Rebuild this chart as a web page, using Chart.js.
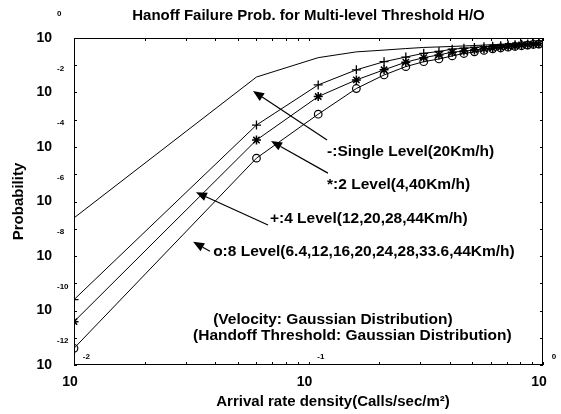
<!DOCTYPE html>
<html>
<head>
<meta charset="utf-8">
<script src="https://cdn.jsdelivr.net/npm/chart.js@4.4.0/dist/chart.umd.min.js"></script>
<style>
  html, body { margin: 0; padding: 0; background: #fff; }
  #wrap { width: 561px; height: 414px; }
</style>
</head>
<body>
<div id="wrap"><canvas id="chart" width="561" height="414"></canvas></div>
<script>
// Arrival rate density (Calls/sec/m^2)
const arrivalRates = [0.01, 0.06, 0.11, 0.16, 0.21, 0.26, 0.31, 0.36, 0.41, 0.46,
                      0.51, 0.56, 0.61, 0.66, 0.71, 0.76, 0.81, 0.86, 0.91, 0.96];

// Handoff failure probability per scheme
const singleLevel = [2.5e-7, 0.037, 0.19, 0.31, 0.36, 0.41, 0.45, 0.47, 0.49, 0.51,
                     0.53, 0.55, 0.57, 0.58, 0.60, 0.61, 0.63, 0.64, 0.66, 0.67];
const level4 = [2.5e-10, 6.4e-4, 0.019, 0.068, 0.135, 0.20, 0.275, 0.32, 0.39, 0.42,
                0.45, 0.48, 0.50, 0.52, 0.55, 0.57, 0.59, 0.60, 0.62, 0.63];
const level2 = [3.9e-11, 1.8e-4, 7.1e-3, 0.029, 0.068, 0.13, 0.19, 0.24, 0.30, 0.33,
                0.36, 0.40, 0.43, 0.46, 0.49, 0.51, 0.55, 0.57, 0.59, 0.62];
const level8 = [4.1e-12, 3.9e-5, 1.6e-3, 0.014, 0.044, 0.089, 0.135, 0.17, 0.22, 0.27,
                0.31, 0.35, 0.40, 0.43, 0.46, 0.49, 0.52, 0.55, 0.58, 0.60];

// Tick decades (labels are 10 with these exponents)
const xDecades = [-2, -1, 0];
const yDecades = [-12, -11, -10, -9, -8, -7, -6, -5, -4, -3, -2, -1, 0];

// Annotation texts and arrows, placed in data coordinates
const notes = [
  { text: '-:Single Level(20Km/h)', x: 0.12, y: 6.5e-5 },
  { text: '*:2 Level(4,40Km/h)', x: 0.12, y: 4.0e-6 },
  { text: '+:4 Level(12,20,28,44Km/h)', x: 0.0685, y: 2.3e-7 },
  { text: 'o:8 Level(6.4,12,16,20,24,28,33.6,44Km/h)', x: 0.0392, y: 1.4e-8 },
  { text: '(Velocity: Gaussian Distribution)', x: 0.0392, y: 4.5e-11 },
  { text: '(Handoff Threshold: Gaussian Distribution)', x: 0.0322, y: 1.16e-11 }
];
const arrows = [
  { from: [0.12, 1.8e-4], to: [0.058, 0.0113] },
  { from: [0.121, 1.1e-5], to: [0.0692, 1.66e-4] },
  { from: [0.0672, 1.37e-7], to: [0.0331, 2.2e-6] },
  { from: [0.038, 1.5e-8], to: [0.0322, 3.3e-8] }
];

const FONT = "'Liberation Sans', Arial, sans-serif";

function toPoints(ys) {
  return arrivalRates.map((x, i) => ({ x: x, y: ys[i] }));
}

function drawArrow(ctx, x1, y1, x2, y2) {
  const ang = Math.atan2(y2 - y1, x2 - x1);
  const len = 11, half = 4.5;
  const bx = x2 - len * Math.cos(ang), by = y2 - len * Math.sin(ang);
  ctx.beginPath();
  ctx.moveTo(x1, y1);
  ctx.lineTo(bx, by);
  ctx.stroke();
  ctx.beginPath();
  ctx.moveTo(x2, y2);
  ctx.lineTo(bx + half * Math.sin(ang), by - half * Math.cos(ang));
  ctx.lineTo(bx - half * Math.sin(ang), by + half * Math.cos(ang));
  ctx.closePath();
  ctx.fill();
}

// Frame, inward ticks, superscript exponents, notes and arrows
const decorations = {
  id: 'decorations',
  afterDraw(chart) {
    const { ctx, chartArea: a } = chart;
    const xs = chart.scales.x, ys = chart.scales.y;
    ctx.save();
    ctx.strokeStyle = '#000';
    ctx.fillStyle = '#000';
    ctx.lineWidth = 1;
    ctx.strokeRect(a.left + 0.5, a.top + 0.5, a.width - 1, a.height - 1);

    // minor ticks on the x axis (1..9 per decade), decade ticks on y
    ctx.beginPath();
    for (let d = -2; d <= 0; d++) {
      for (let k = 1; k <= (d === 0 ? 1 : 9); k++) {
        const px = Math.round(xs.getPixelForValue(k * Math.pow(10, d))) + 0.5;
        ctx.moveTo(px, a.bottom); ctx.lineTo(px, a.bottom - 3);
        ctx.moveTo(px, a.top); ctx.lineTo(px, a.top + 3);
      }
    }
    yDecades.forEach(e => {
      const py = Math.round(ys.getPixelForValue(Math.pow(10, e))) + 0.5;
      ctx.moveTo(a.left, py); ctx.lineTo(a.left + 3, py);
      ctx.moveTo(a.right, py); ctx.lineTo(a.right - 3, py);
    });
    ctx.stroke();

    // exponents, shifted up from the "10" labels like the original
    ctx.font = 'bold 8px ' + FONT;
    ctx.textAlign = 'left';
    ctx.textBaseline = 'middle';
    yDecades.filter(e => e % 2 === 0).forEach(e => {
      const py = ys.getPixelForValue(Math.pow(10, e));
      ctx.fillText(String(e), a.left - 22 + 5, py - 24);
    });
    ctx.font = 'bold 14px ' + FONT;
    const w10 = ctx.measureText('10').width;
    ctx.font = 'bold 8px ' + FONT;
    xDecades.forEach(e => {
      const px = xs.getPixelForValue(Math.pow(10, e)) - 4;
      ctx.fillText(String(e), px + w10 / 2 + 5, a.bottom + 17 - 25);
    });

    // notes
    ctx.font = 'bold 15.5px ' + FONT;
    notes.forEach(n => {
      ctx.fillText(n.text, xs.getPixelForValue(n.x), ys.getPixelForValue(n.y));
    });

    // arrows
    ctx.lineWidth = 1.2;
    arrows.forEach(ar => {
      drawArrow(ctx,
        xs.getPixelForValue(ar.from[0]), ys.getPixelForValue(ar.from[1]),
        xs.getPixelForValue(ar.to[0]), ys.getPixelForValue(ar.to[1]));
    });

    // x axis title
    ctx.font = 'bold 15px ' + FONT;
    ctx.textAlign = 'center';
    ctx.fillText('Arrival rate density(Calls/sec/m\u00B2)', 333, 402);
    ctx.restore();
  }
};

const baseLine = {
  borderColor: '#000',
  borderWidth: 1,
  pointBorderColor: '#000',
  pointBackgroundColor: 'rgba(0,0,0,0)',
  tension: 0,
  fill: false
};

new Chart(document.getElementById('chart'), {
  type: 'line',
  data: {
    datasets: [
      Object.assign({}, baseLine, { label: 'Single Level', data: toPoints(singleLevel), pointRadius: 0 }),
      Object.assign({}, baseLine, { label: '4 Level', data: toPoints(level4), pointStyle: 'cross', pointRadius: 4.5, pointBorderWidth: 1.3 }),
      Object.assign({}, baseLine, { label: '2 Level', data: toPoints(level2), pointStyle: 'star', pointRadius: 4.5, pointBorderWidth: 1.5 }),
      Object.assign({}, baseLine, { label: '8 Level', data: toPoints(level8), pointStyle: 'circle', pointRadius: 3.8, pointBorderWidth: 1.2 })
    ]
  },
  options: {
    responsive: false,
    animation: false,
    devicePixelRatio: 1,
    layout: { padding: { top: 0, right: 18, bottom: 0, left: 0 } },
    plugins: {
      legend: { display: false },
      tooltip: { enabled: false },
      title: {
        display: true,
        text: 'Hanoff Failure Prob. for Multi-level Threshold H/O',
        fullSize: false,
        color: '#000',
        font: { family: FONT, size: 15, weight: 'bold' },
        padding: { top: 7, bottom: 13 }
      }
    },
    scales: {
      x: {
        type: 'logarithmic',
        min: 0.01,
        max: 1,
        afterBuildTicks: axis => { axis.ticks = xDecades.map(e => ({ value: Math.pow(10, e) })); },
        afterFit: axis => { axis.height = 49; },
        ticks: {
          callback: () => '10',
          color: '#000',
          font: { family: FONT, size: 14, weight: 'bold' },
          padding: 9,
          labelOffset: -4,
          maxRotation: 0,
          autoSkip: false
        },
        grid: { display: false, drawTicks: false },
        border: { display: false }
      },
      y: {
        type: 'logarithmic',
        min: 1e-12,
        max: 1,
        afterBuildTicks: axis => { axis.ticks = yDecades.map(e => ({ value: Math.pow(10, e) })); },
        afterFit: axis => { axis.width = 74; },
        ticks: {
          callback: value => (Math.round(Math.log10(value)) % 2 === 0 ? '10' : ''),
          color: '#000',
          font: { family: FONT, size: 14, weight: 'bold' },
          padding: 22,
          autoSkip: false
        },
        title: {
          display: true,
          text: 'Probability',
          color: '#000',
          font: { family: FONT, size: 15, weight: 'bold' },
          padding: { top: 10, bottom: 0 }
        },
        grid: { display: false, drawTicks: false },
        border: { display: false }
      }
    }
  },
  plugins: [decorations]
});
</script>
</body>
</html>
